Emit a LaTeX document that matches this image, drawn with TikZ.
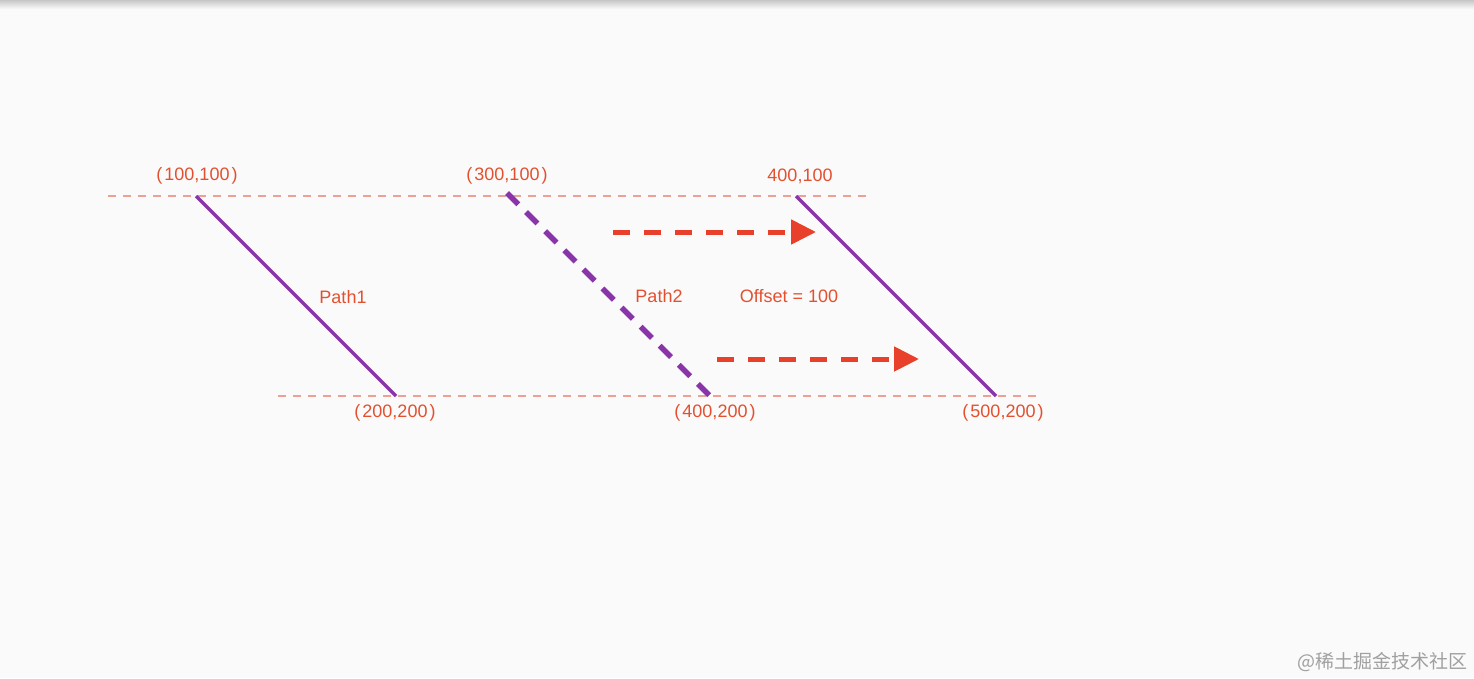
\documentclass[tikz,border=0pt]{standalone}
\usepackage{fontspec}
\setmainfont{Liberation Sans}
\newfontfamily\cjk{Noto Sans CJK SC}
\usetikzlibrary{arrows.meta}
\definecolor{bg}{HTML}{FAFAFA}
\definecolor{pathpurple}{HTML}{8A34AA}
\definecolor{arrowred}{HTML}{E8402A}
\definecolor{labelred}{HTML}{E3502F}
\definecolor{guide}{HTML}{EBA193}
\definecolor{wm}{HTML}{A0A0A0}
\begin{document}
\begin{tikzpicture}[x=1pt,y=-1pt,
  guideline/.style={guide,line width=1.3pt,dash pattern=on 8pt off 7pt},
  solidpath/.style={pathpurple,line width=3.5pt},
  dashpath/.style={pathpurple,line width=5.5pt,dash pattern=on 16pt off 11pt},
  offsetarrow/.style={arrowred,line width=5pt,dash pattern=on 17pt off 14pt,
    -{Triangle[length=25pt,width=24pt]}},
  lbl/.style={labelred,font=\fontsize{18}{20}\selectfont,inner sep=0pt}]
\useasboundingbox (0,0) rectangle (1474,678);
\fill[bg] (0,0) rectangle (1474,678);
\shade[top color=black!22,bottom color=bg] (0,0) rectangle (1474,9);
% guide lines
\coordinate (gt1) at (108,196); \coordinate (gt2) at (866,196);
\coordinate (gb1) at (278,396); \coordinate (gb2) at (1036,396);
\draw[guideline] (gt1) -- (gt2);
\draw[guideline] (gb1) -- (gb2);
% paths
\coordinate (p1a) at (196,196); \coordinate (p1b) at (396,396);
\coordinate (p2a) at (507,193); \coordinate (p2b) at (710,396);
\coordinate (p3a) at (796,196); \coordinate (p3b) at (996,396);
\draw[solidpath] (p1a) -- (p1b);
\draw[dashpath] (p2a) -- (p2b);
\draw[solidpath] (p3a) -- (p3b);
% offset arrows
\coordinate (a1s) at (613,232); \coordinate (a1e) at (816,232);
\coordinate (a2s) at (717,359); \coordinate (a2e) at (919,359);
\draw[offsetarrow] (a1s) -- (a1e);
\draw[offsetarrow] (a2s) -- (a2e);
% labels
\node[lbl] (l1) at (197,176) {(\kern2pt100,100\kern2pt)};
\node[lbl] (l2) at (507,176) {(\kern2pt300,100\kern2pt)};
\node[lbl] (l3) at (800,176) {400,100};
\node[lbl] (l4) at (395,413) {(\kern2pt200,200\kern2pt)};
\node[lbl] (l5) at (715,413) {(\kern2pt400,200\kern2pt)};
\node[lbl] (l6) at (1003,413) {(\kern2pt500,200\kern2pt)};
\node[lbl] (path1) at (343,297) {Path1};
\node[lbl] (path2) at (659,296) {Path2};
\node[lbl] (off) at (789,296) {Offset = 100};
\node[wm,font=\cjk\fontsize{19}{21}\selectfont,inner sep=0pt,anchor=east] (wmk) at (1468,662) {@稀土掘金技术社区};
\end{tikzpicture}
\end{document}
